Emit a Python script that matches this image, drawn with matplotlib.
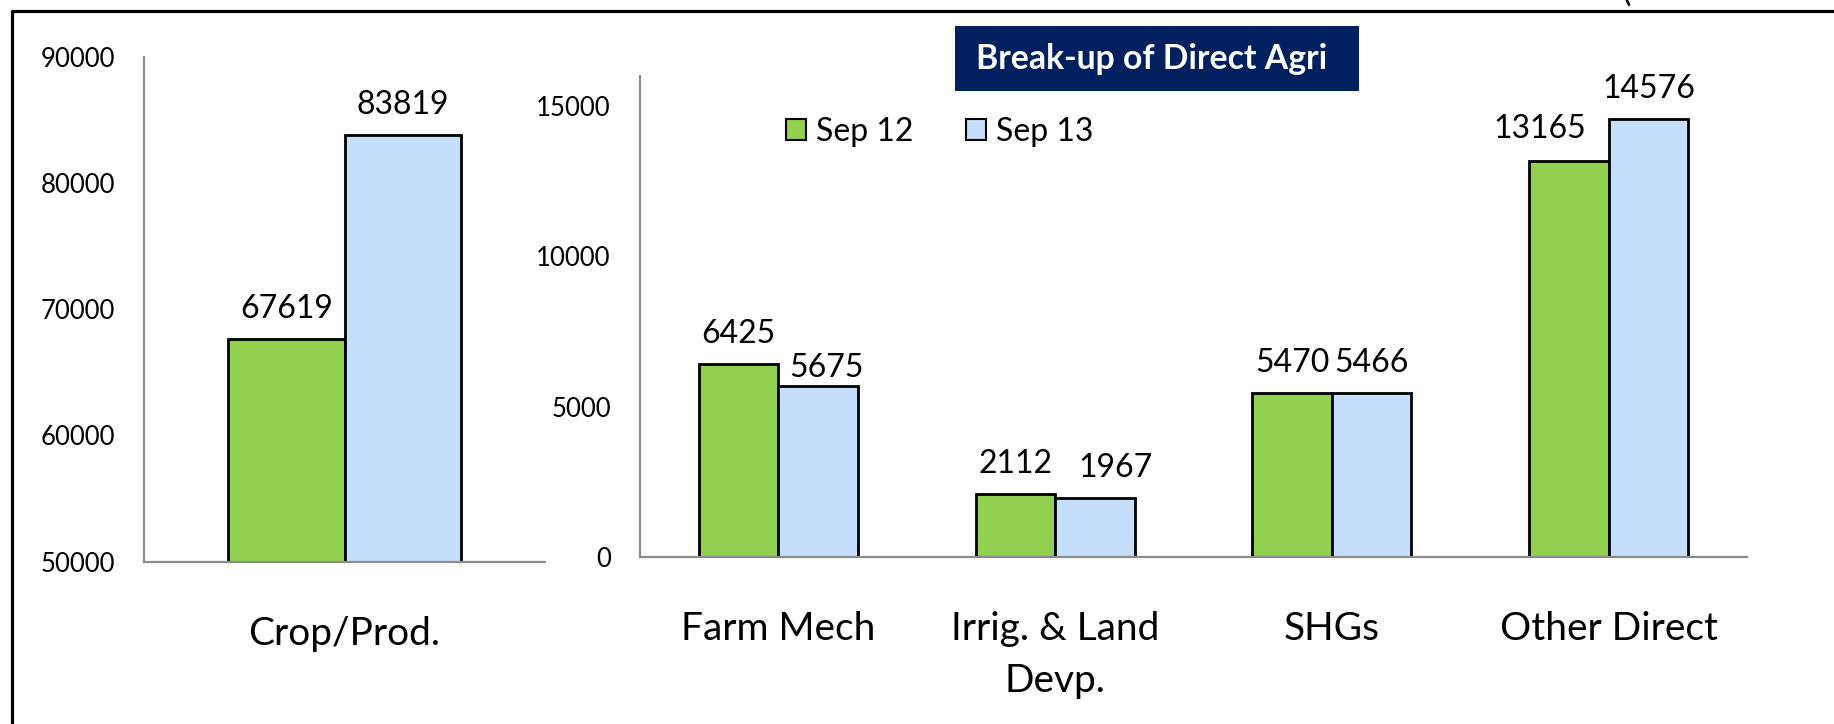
import numpy as np
import matplotlib
matplotlib.use('Agg')
import matplotlib.pyplot as plt
from matplotlib.patches import Rectangle
from matplotlib.lines import Line2D

plt.rcParams['font.family'] = ['Lato', 'DejaVu Sans']

# data (Rs. crore)
series = ['Sep 12', 'Sep 13']
crop_label = ['Crop/Prod.']
crop_sep12 = [67619]
crop_sep13 = [83819]

direct_labels = ['Farm Mech', 'Irrig. & Land\nDevp.', 'SHGs', 'Other Direct']
direct_sep12 = [6425, 2112, 5470, 13165]
direct_sep13 = [5675, 1967, 5466, 14576]

green = '#92D050'
blue = '#C5DEFB'
axis_grey = '#8C8C8C'

W, H = 1834, 724
fig = plt.figure(figsize=(W / 100, H / 100), dpi=100)


def px_box(x0, y0, x1, y1):
    # pixel box (top-left origin) -> figure fraction rect
    return [x0 / W, (H - y1) / H, (x1 - x0) / W, (y1 - y0) / H]


def style_axes(ax):
    for s in ['top', 'right']:
        ax.spines[s].set_visible(False)
    for s in ['left', 'bottom']:
        ax.spines[s].set_color(axis_grey)
        ax.spines[s].set_linewidth(1.6)
    ax.tick_params(axis='y', length=0, pad=21, labelsize=18.5)
    ax.tick_params(axis='x', length=0, pad=39, labelsize=28)


def label_bars(ax, bars, values, nudges):
    for i, (b, v) in enumerate(zip(bars, values)):
        dx, dy = nudges.get(i, (0, 15))
        ax.annotate(str(v), (b.get_x() + b.get_width() / 2, b.get_height()),
                    xytext=(dx, dy), textcoords='offset points',
                    ha='center', va='baseline', fontsize=23, color='black')


# left panel: crop / production
ax1 = fig.add_axes(px_box(144, 57, 545, 561.5))
w1 = 0.29
x1 = np.arange(len(crop_label))
b1 = ax1.bar(x1 - w1 / 2, crop_sep12, w1, color=green, edgecolor='black', linewidth=2)
b2 = ax1.bar(x1 + w1 / 2, crop_sep13, w1, color=blue, edgecolor='black', linewidth=2)
ax1.set_ylim(50000, 90000)
ax1.set_xlim(-0.5, 0.5)
ax1.set_yticks(np.arange(50000, 90001, 10000))
ax1.set_xticks(x1)
ax1.set_xticklabels(crop_label)
style_axes(ax1)
label_bars(ax1, b1, crop_sep12, {})
label_bars(ax1, b2, crop_sep13, {})

# right panel: break-up of direct agri
ax2 = fig.add_axes(px_box(640, 76, 1747, 557))
w2 = 0.287
x2 = np.arange(len(direct_labels))
g = ax2.bar(x2 - w2 / 2, direct_sep12, w2, color=green, edgecolor='black', linewidth=2, label=series[0])
bl = ax2.bar(x2 + w2 / 2, direct_sep13, w2, color=blue, edgecolor='black', linewidth=2, label=series[1])
ax2.set_ylim(0, 16000)
ax2.set_xlim(-0.5, len(direct_labels) - 0.5)
ax2.set_yticks(np.arange(0, 15001, 5000))
ax2.set_xticks(x2)
ax2.set_xticklabels(direct_labels, multialignment='center', linespacing=1.55)
style_axes(ax2)
label_bars(ax2, g, direct_sep12, {3: (-21, 17)})
label_bars(ax2, bl, direct_sep13, {0: (6, 7), 1: (15, 15)})

ax2.legend(loc='center left', bbox_to_anchor=(786 / W, 1 - 132 / H),
           bbox_transform=fig.transFigure, ncol=2, frameon=False,
           fontsize=23, handlelength=0.62, handleheight=0.62,
           handletextpad=0.32, columnspacing=1.65, borderpad=0, borderaxespad=0)
for h in ax2.get_legend().legend_handles:
    h.set_linewidth(1.5)

# title box
fig.patches.append(Rectangle((955 / W, 1 - 91 / H), (1359 - 955) / W, (91 - 26) / H,
                             transform=fig.transFigure, facecolor='#002060', edgecolor='none'))
fig.text(1152 / W, 1 - 69 / H, 'Break-up of Direct Agri', color='white',
         fontsize=24.3, fontweight='bold', ha='center', va='baseline')

# outer frame (slide border) and clipped bracket at the top
fig.lines.append(Line2D([12 / W, 12 / W, 1], [0, 1 - 11 / H, 1 - 11 / H],
                        transform=fig.transFigure, color='black', linewidth=2.3))
fig.text(1626 / W, 1 - 8 / H, '(', fontsize=26, ha='center', va='bottom')

fig.savefig('out.png', dpi=100)
